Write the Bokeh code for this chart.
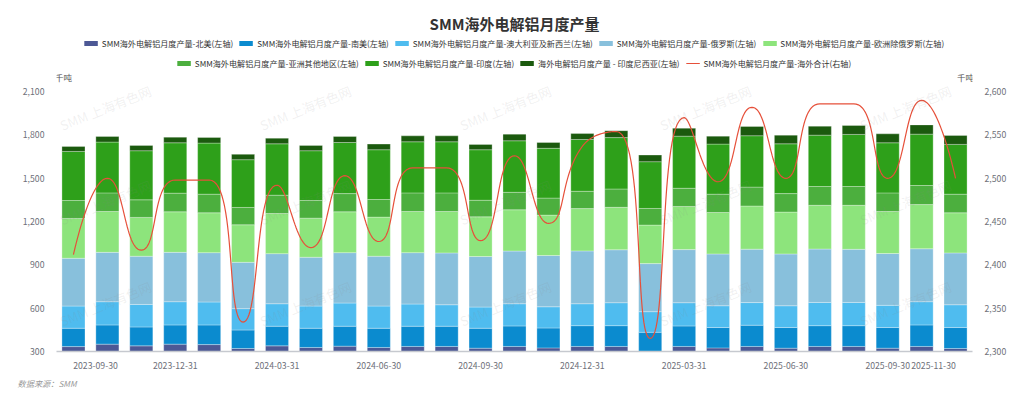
import math
import numpy as np
from bokeh.plotting import figure
from bokeh.models import (ColumnDataSource, Range1d, LinearAxis, FixedTicker,
                          NumeralTickFormatter, Legend, LegendItem, Label, Title)
from bokeh.embed import file_html
from bokeh.resources import INLINE

# ---------------- data ----------------
dates = ["2023-09-30", "2023-10-31", "2023-11-30", "2023-12-31", "2024-01-31", "2024-02-29",
         "2024-03-31", "2024-04-30", "2024-05-31", "2024-06-30", "2024-07-31", "2024-08-31",
         "2024-09-30", "2024-10-31", "2024-11-30", "2024-12-31", "2025-01-31", "2025-02-28",
         "2025-03-31", "2025-04-30", "2025-05-31", "2025-06-30", "2025-07-31", "2025-08-31",
         "2025-09-30", "2025-10-31", "2025-11-30"]

north_america = [334, 351, 339, 351, 348, 321, 339, 328, 337, 328, 335, 335, 323, 335, 325, 335, 335, 298, 335, 325, 335, 323, 335, 335, 323, 335, 321]
south_america = [127, 133, 131, 133, 136, 128, 136, 133, 138, 133, 140, 140, 138, 142, 138, 144, 144, 135, 142, 141, 147, 143, 144, 144, 143, 149, 145]
australia_nz = [154, 161, 156, 161, 159, 148, 156, 154, 161, 154, 154, 149, 147, 154, 147, 152, 159, 143, 161, 151, 157, 151, 161, 161, 154, 161, 158]
russia = [331, 342, 334, 342, 342, 321, 347, 338, 349, 345, 356, 359, 350, 365, 355, 366, 367, 333, 368, 359, 370, 359, 370, 368, 359, 367, 359]
europe_ex_russia = [276, 283, 269, 281, 276, 260, 278, 271, 283, 271, 285, 287, 275, 286, 280, 293, 294, 267, 299, 287, 299, 290, 303, 305, 291, 306, 278]
asia_other = [124, 129, 122, 129, 129, 120, 127, 122, 126, 122, 129, 129, 115, 121, 118, 120, 127, 115, 126, 127, 131, 128, 130, 130, 129, 132, 129]
india = [340, 352, 340, 349, 354, 331, 356, 345, 354, 345, 354, 354, 350, 357, 345, 359, 356, 324, 361, 347, 356, 345, 356, 361, 347, 356, 345]
indonesia = [35, 39, 37, 39, 39, 37, 39, 37, 42, 39, 41, 41, 37, 46, 40, 41, 48, 46, 55, 55, 64, 60, 62, 62, 62, 64, 62]
overseas_total = [2412, 2500, 2417, 2498, 2498, 2334, 2492, 2420, 2503, 2427, 2512, 2512, 2428, 2526, 2448, 2537, 2554, 2315, 2570, 2496, 2582, 2500, 2586, 2586, 2500, 2590, 2500]

series_names = ["SMM海外电解铝月度产量-北美(左轴)", "SMM海外电解铝月度产量-南美(左轴)",
                "SMM海外电解铝月度产量-澳大利亚及新西兰(左轴)", "SMM海外电解铝月度产量-俄罗斯(左轴)",
                "SMM海外电解铝月度产量-欧洲除俄罗斯(左轴)", "SMM海外电解铝月度产量-亚洲其他地区(左轴)",
                "SMM海外电解铝月度产量-印度(左轴)", "海外电解铝月度产量 - 印度尼西亚(左轴)"]
line_name = "SMM海外电解铝月度产量-海外合计(右轴)"
title_text = "SMM海外电解铝月度产量"
unit_text = "千吨"
source_text = "数据来源：SMM"
watermark_text = "SMM 上海有色网"
left_ticks = [300, 600, 900, 1200, 1500, 1800, 2100]
right_ticks = [2300, 2350, 2400, 2450, 2500, 2550, 2600]

colors = ["#4d5895", "#0b8bcf", "#4fbcef", "#88c0dc", "#8de47c", "#4caf3e", "#2ea01a", "#1b5a0e"]
line_color = "#e6503a"

# ---------------- layout constants ----------------
FONT = "Noto Sans CJK SC"
W, H = 1016, 391
BL, BR, BT, BB = 56, 44, 4, 38
frame_h = H - BT - BB
px_span = 261.3                       # pixels between 300 and 2100
left_top = 300 + frame_h * 1800 / px_span
right_top = 2300 + frame_h * 300 / px_span
n = len(dates)
frame_w = W - BL - BR
XS = frame_w / n                      # px per category
YS = px_span / 300.0                  # px per right-axis unit
EDGE_SHIFT = 0.65                     # first/last date labels hug the end bars

keys = ["na", "sa", "au", "ru", "eu", "asia", "ind", "idn"]
data = dict(x=list(range(n)), na=north_america, sa=south_america, au=australia_nz, ru=russia,
            eu=europe_ex_russia, asia=asia_other, ind=india, idn=indonesia)
source = ColumnDataSource(data)

p = figure(width=W, height=H, x_range=Range1d(-0.5, n - 0.5), y_range=Range1d(300, left_top),
           output_backend="svg", toolbar_location=None,
           min_border_left=BL, min_border_right=BR, min_border_top=BT, min_border_bottom=BB)
p.title.visible = False
p.outline_line_color = None
p.grid.visible = False

p.vbar_stack(keys, x="x", width=0.68, fill_color=colors, line_color="#ffffff",
             line_width=0.6, line_alpha=0.5, source=source)

# smooth line (ECharts style bezier smoothing in pixel space)
def smooth_path(xv, yv, smooth=0.5):
    pts = [(a * XS, b * YS) for a, b in zip(xv, yv)]
    ox, oy = [pts[0][0]], [pts[0][1]]
    cpx0, cpy0 = pts[0]
    px_, py_ = pts[0]
    m = len(pts)
    t = np.linspace(0, 1, 30)[1:]
    for k in range(1, m):
        x, y = pts[k]
        if k == m - 1:
            cpx1, cpy1 = x, y
            ncx, ncy = x, y
        else:
            nx_, ny_ = pts[k + 1]
            vx, vy = nx_ - px_, ny_ - py_
            lp = math.hypot(x - px_, y - py_)
            ln = math.hypot(nx_ - x, ny_ - y)
            r = ln / (ln + lp)
            ncx = x + vx * smooth * r
            ncy = y + vy * smooth * r
            ncx = max(min(ncx, max(nx_, x)), min(nx_, x))
            ncy = max(min(ncy, max(ny_, y)), min(ny_, y))
            vx, vy = ncx - x, ncy - y
            cpx1 = x - vx * lp / ln
            cpy1 = y - vy * lp / ln
            cpx1 = max(min(cpx1, max(px_, x)), min(px_, x))
            cpy1 = max(min(cpy1, max(py_, y)), min(py_, y))
            vx, vy = x - cpx1, y - cpy1
            ncx = x + vx * ln / lp
            ncy = y + vy * ln / lp
        bx = (1 - t) ** 3 * px_ + 3 * (1 - t) ** 2 * t * cpx0 + 3 * (1 - t) * t ** 2 * cpx1 + t ** 3 * x
        by = (1 - t) ** 3 * py_ + 3 * (1 - t) ** 2 * t * cpy0 + 3 * (1 - t) * t ** 2 * cpy1 + t ** 3 * y
        ox.extend(bx.tolist())
        oy.extend(by.tolist())
        cpx0, cpy0 = ncx, ncy
        px_, py_ = x, y
    return [v / XS for v in ox], [v / YS for v in oy]

p.extra_y_ranges = {"right": Range1d(2300, right_top)}
lx, ly = smooth_path(list(range(n)), overseas_total)
line_r = p.line(lx, ly, line_color=line_color, line_width=1.2, y_range_name="right")

# axes
yl = p.yaxis[0]
yl.ticker = FixedTicker(ticks=left_ticks)
yl.formatter = NumeralTickFormatter(format="0,0")
yr = LinearAxis(y_range_name="right", ticker=FixedTicker(ticks=right_ticks),
                formatter=NumeralTickFormatter(format="0,0"))
p.add_layout(yr, "right")
for ax in (yl, yr):
    ax.axis_line_color = None
    ax.major_tick_line_color = None
    ax.minor_tick_line_color = None
    ax.major_label_standoff = 6
    ax.major_label_text_font = FONT
    ax.major_label_text_font_size = "8.7px"
    ax.major_label_text_color = "#6E7079"

tick_idx = [i for i, d in enumerate(dates) if d[5:7] in ("03", "06", "09", "12")][1:]
first_pos = 0 + EDGE_SHIFT
last_pos = (n - 1) - EDGE_SHIFT
overrides = {i: dates[i] for i in tick_idx}
overrides[first_pos] = dates[0]
overrides[last_pos] = dates[-1]
xa = p.xaxis[0]
xa.ticker = FixedTicker(ticks=[first_pos] + tick_idx + [last_pos])
xa.major_label_overrides = overrides
xa.axis_line_color = "#c6c9cf"
xa.axis_line_width = 1.5
xa.major_tick_line_color = None
xa.minor_tick_line_color = None
xa.major_label_standoff = 4
xa.major_label_text_font = FONT
xa.major_label_text_font_size = "8.7px"
xa.major_label_text_color = "#6E7079"

def add_label(**kw):
    base = dict(text_font=FONT, text_baseline="middle")
    base.update(kw)
    p.add_layout(Label(**base))

# faint tiled watermark
def to_data(px_x, px_y):
    return (px_x - BL) / XS - 0.5, 300 + (H - BB - px_y) * 1800 / px_span

for wy in (108, 203, 305):
    for wx in (105, 305, 505, 705, 905):
        dx, dy = to_data(wx, wy)
        add_label(x=dx, y=dy, text=watermark_text, text_align="center", angle=0.38,
                  text_font_size="13px", text_color="#8a8a8a", text_alpha=0.13)

add_label(x=(n - 1) / 2, y=left_top, y_offset=-19, text=title_text, text_align="center",
          text_font_size="15px", text_font_style="bold", text_color="#333333")
add_label(x=-0.5, x_offset=7, y=2100, y_offset=15, text=unit_text, text_align="center",
          text_font_size="8.5px", text_color="#555555")
add_label(x=n - 0.5, x_offset=-7, y=2100, y_offset=15, text=unit_text, text_align="center",
          text_font_size="8.5px", text_color="#555555")

footer = Title(text=source_text, align="left", offset=-39, standoff=6,
               text_font=FONT, text_font_size="8.2px", text_font_style="italic",
               text_color="#999999")
p.add_layout(footer, "below")

# legends (icons drawn as thick short strokes)
icons = [p.line(x=[float("nan")], y=[float("nan")], line_color=c, line_width=5) for c in colors]
items1 = [LegendItem(label=series_names[i], renderers=[icons[i]]) for i in range(5)]
items2 = [LegendItem(label=series_names[i], renderers=[icons[i]]) for i in range(5, 8)]
items2.append(LegendItem(label=line_name, renderers=[line_r]))

for items, mg in ((items1, 33), (items2, 53)):
    lg = Legend(items=items, location="top_center", orientation="horizontal",
                glyph_width=14, glyph_height=12, label_height=12, label_standoff=4,
                spacing=6, padding=0, margin=mg, border_line_color=None,
                background_fill_alpha=0, label_text_font=FONT, label_text_font_size="8.1px",
                label_text_color="#333333")
    p.add_layout(lg)

open("out.html", "w").write(file_html(p, INLINE))
